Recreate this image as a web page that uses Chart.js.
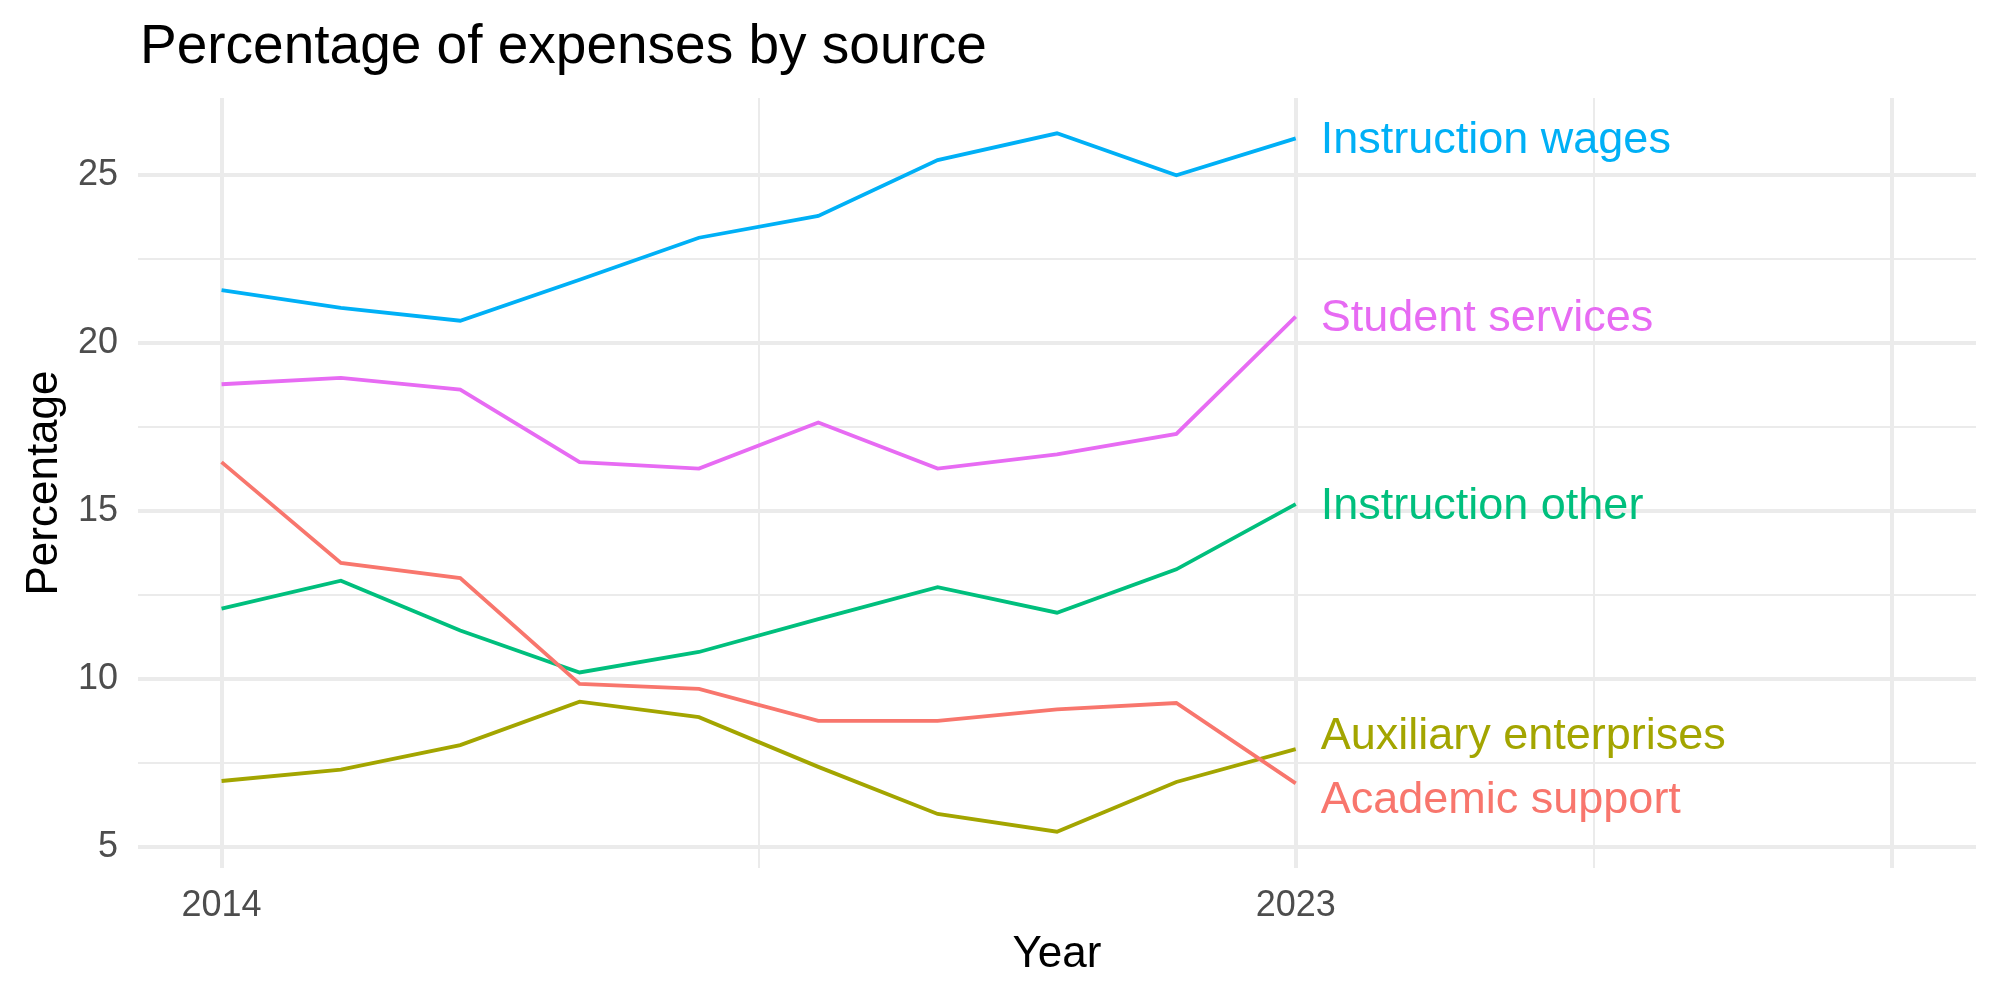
<!DOCTYPE html>
<html>
<head>
<meta charset="utf-8">
<script src="https://cdn.jsdelivr.net/npm/chart.js@4"></script>
<style>
  html, body { margin: 0; padding: 0; background: #fff; }
  #wrap { width: 2000px; height: 1000px; }
</style>
</head>
<body>
<div id="wrap"><canvas id="chart" width="2000" height="1000"></canvas></div>
<script>
// data
let years = [2014, 2015, 2016, 2017, 2018, 2019, 2020, 2021, 2022, 2023];
let academicSupport = [16.46, 13.46, 13.01, 9.86, 9.71, 8.76, 8.76, 9.10, 9.29, 6.90];
let auxiliary = [6.97, 7.31, 8.04, 9.33, 8.87, 7.39, 5.99, 5.46, 6.94, 7.92];
let instructionOther = [12.10, 12.93, 11.45, 10.20, 10.81, 11.79, 12.74, 11.98, 13.27, 15.21];
let instructionWages = [21.58, 21.05, 20.67, 21.89, 23.14, 23.79, 25.45, 26.25, 25.00, 26.10];
let studentServices = [18.78, 18.97, 18.62, 16.46, 16.27, 17.64, 16.27, 16.69, 17.30, 20.79];

let seriesNames = ["Academic support", "Auxiliary enterprises", "Instruction other", "Instruction wages", "Student services"];
let seriesValues = [academicSupport, auxiliary, instructionOther, instructionWages, studentServices];
let seriesColors = ["#F8766D", "#A3A500", "#00BF7D", "#00B0F6", "#E76BF3"];

let xBreaks = [2014, 2018.5, 2023, 2025.5, 2028];
let xLabels = ["2014", "", "2023", "", ""];
let yBreaks = [5, 7.5, 10, 12.5, 15, 17.5, 20, 22.5, 25];

const FONT = "'Liberation Sans', Arial, Helvetica, sans-serif";

let datasets = seriesNames.map((name, i) => ({
  label: name,
  data: years.map((y, j) => ({ x: y, y: seriesValues[i][j] })),
  borderColor: seriesColors[i],
  backgroundColor: seriesColors[i],
  borderWidth: 3.8,
  pointRadius: 0,
  tension: 0,
  fill: false
}));

// titles + end labels (with a small repel so they don't overlap)
const textPlugin = {
  id: "texts",
  afterDatasetsDraw(chart) {
    let ctx = chart.ctx;
    let xs = chart.scales.x, ys = chart.scales.y;
    let area = chart.chartArea;

    // end labels
    let labs = seriesNames.map((n, i) => {
      let vals = seriesValues[i];
      return { name: n, color: seriesColors[i], y: ys.getPixelForValue(vals[vals.length - 1]) };
    });
    labs.sort((a, b) => a.y - b.y);
    let gap = 64;
    for (let k = 0; k < 50; k++) {
      for (let i = 0; i < labs.length - 1; i++) {
        let d = labs[i + 1].y - labs[i].y;
        if (d < gap) {
          let push = (gap - d) / 2;
          labs[i].y -= push;
          labs[i + 1].y += push;
        }
      }
    }
    let lx = xs.getPixelForValue(years[years.length - 1]) + 25;
    ctx.save();
    ctx.font = "45px " + FONT;
    ctx.textAlign = "left";
    ctx.textBaseline = "middle";
    labs.forEach(l => {
      ctx.fillStyle = l.color;
      ctx.fillText(l.name, lx, l.y + 2);
    });

    // title
    ctx.fillStyle = "#000";
    ctx.textBaseline = "alphabetic";
    ctx.font = "55px " + FONT;
    ctx.fillText("Percentage of expenses by source", 140, 63);

    // axis titles
    ctx.font = "44px " + FONT;
    ctx.textAlign = "center";
    ctx.fillText("Year", (area.left + area.right) / 2, 967);
    ctx.translate(57, (area.top + area.bottom) / 2);
    ctx.rotate(-Math.PI / 2);
    ctx.fillText("Percentage", 0, 0);
    ctx.restore();
  }
};

new Chart(document.getElementById("chart"), {
  type: "line",
  data: { datasets: datasets },
  plugins: [textPlugin],
  options: {
    responsive: false,
    animation: false,
    devicePixelRatio: 1,
    layout: { padding: { top: 98, right: 24, left: 0, bottom: 0 } },
    plugins: { legend: { display: false }, tooltip: { enabled: false }, title: { display: false } },
    scales: {
      x: {
        type: "linear",
        min: 2013.3,
        max: 2028.7,
        afterBuildTicks: s => { s.ticks = xBreaks.map(v => ({ value: v })); },
        afterFit: s => { s.height = 132; },
        border: { display: false },
        grid: {
          drawTicks: false,
          color: "#EBEBEB",
          lineWidth: c => (c.tick && (c.tick.value === 2018.5 || c.tick.value === 2025.5)) ? 2 : 4
        },
        ticks: {
          autoSkip: false,
          maxRotation: 0,
          padding: 16,
          color: "#4D4D4D",
          font: { size: 36, family: FONT },
          callback: (v, i) => xLabels[i]
        }
      },
      y: {
        min: 4.38,
        max: 27.3,
        afterBuildTicks: s => { s.ticks = yBreaks.map(v => ({ value: v })); },
        afterFit: s => { s.width = 138; },
        border: { display: false },
        grid: {
          drawTicks: false,
          color: "#EBEBEB",
          lineWidth: c => (c.tick && c.tick.value % 5 !== 0) ? 2 : 4
        },
        ticks: {
          padding: 20,
          color: "#4D4D4D",
          font: { size: 36, family: FONT },
          callback: v => (v % 5 === 0 ? String(v) : "")
        }
      }
    }
  }
});
</script>
</body>
</html>
